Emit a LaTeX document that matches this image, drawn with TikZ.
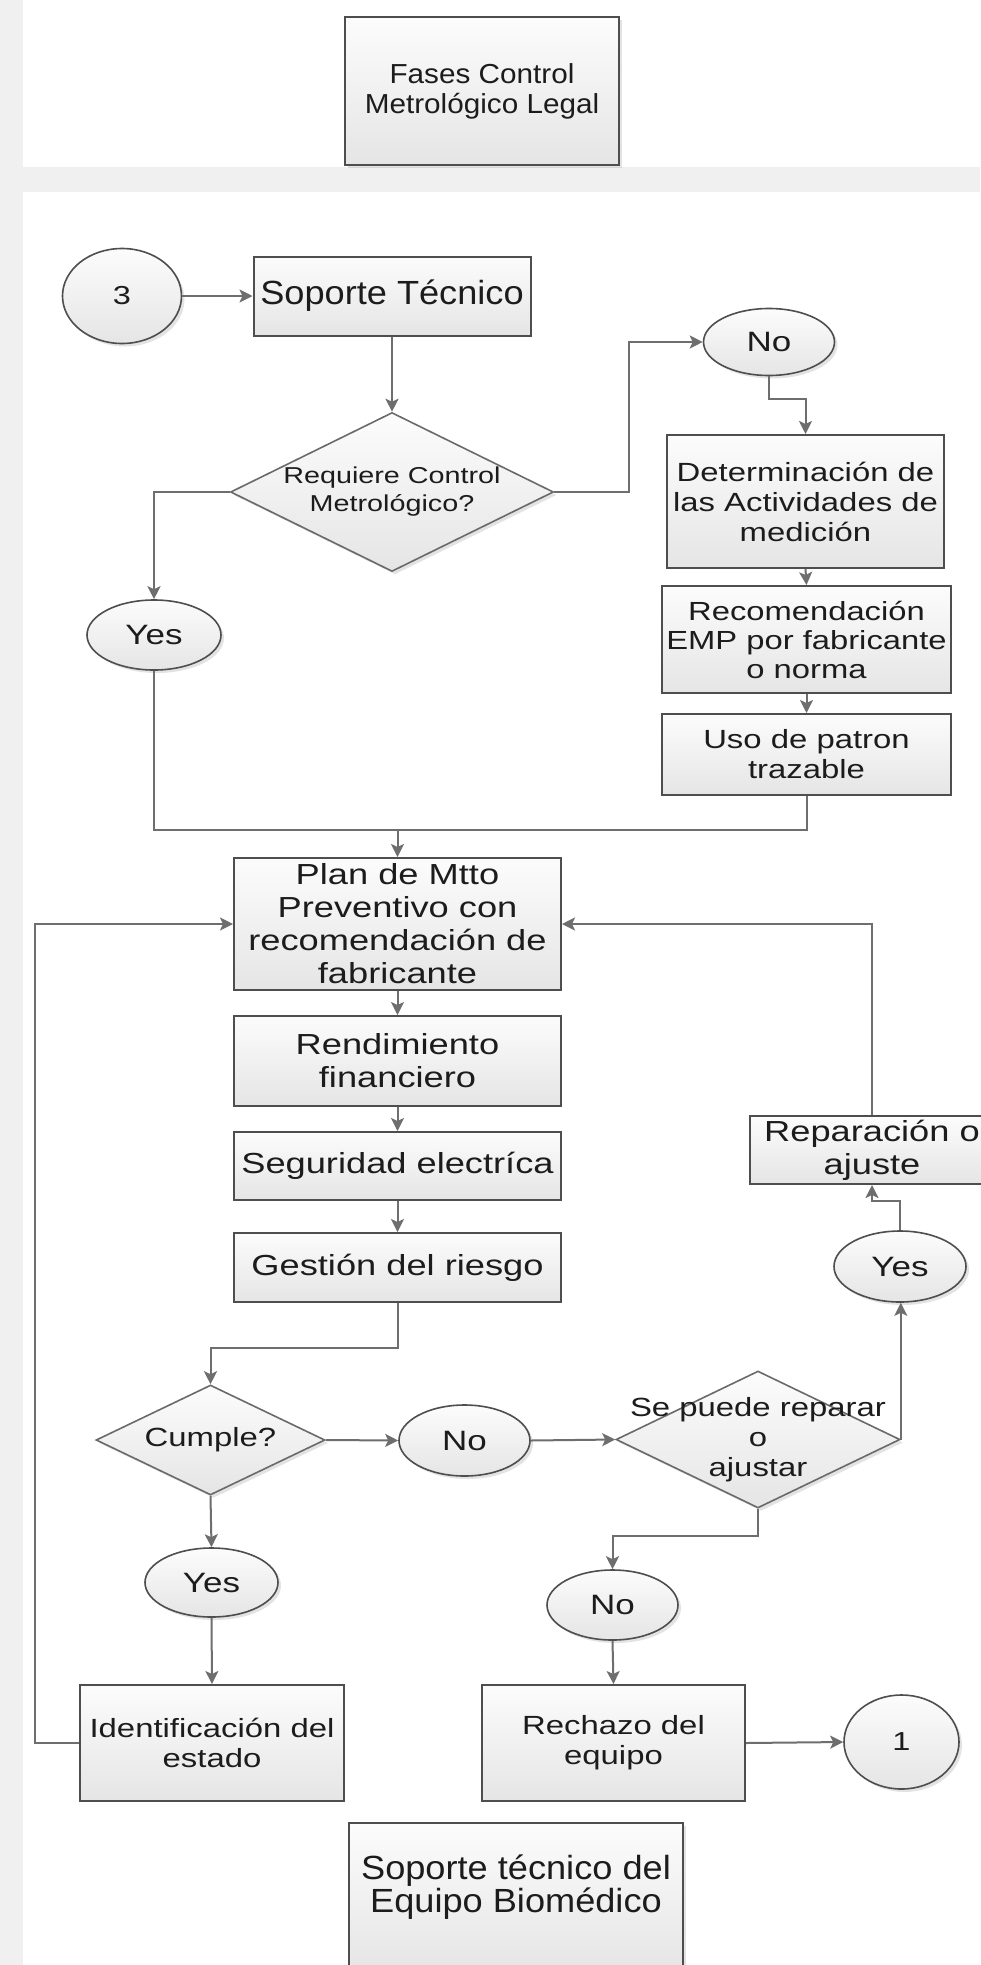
\documentclass[tikz,border=0pt]{standalone}
\usepackage{fontspec}
\setmainfont{Liberation Sans}
\newfontfamily\fW{Liberation Sans}[FakeStretch=1.25]
\newfontfamily\fN{Liberation Sans}[FakeStretch=1.08]
\usetikzlibrary{arrows.meta,shapes.geometric,shadows}

\definecolor{bgray}{HTML}{F0F0F0}
\definecolor{edge}{HTML}{4E4E4E}
\definecolor{dedge}{HTML}{6A6A6A}
\definecolor{wire}{HTML}{6E6E6E}
\definecolor{ink}{HTML}{1C1C1C}
\definecolor{topfill}{HTML}{FCFCFC}
\definecolor{botfill}{HTML}{E5E5E5}

\tikzset{
  softshadow/.style={drop shadow={shadow xshift=3pt,shadow yshift=-3pt,opacity=0.22,fill=gray}},
  box/.style={rectangle, draw=edge, line width=2pt, shading=axis, top color=topfill,
    bottom color=botfill, inner sep=0pt, align=center, text=ink},
  bigbox/.style={box, softshadow},
  oval/.style={ellipse, draw=edge, line width=1.6pt, shading=axis, top color=topfill,
    bottom color=botfill, inner sep=0pt, align=center, text=ink, softshadow,
    font=\fW\fontsize{28}{30}\selectfont},
  decision/.style={diamond, draw=dedge, line width=1.6pt, shading=axis, top color=topfill,
    bottom color=botfill, inner sep=0pt, softshadow},
  txtA/.style={font=\fW\fontsize{26.3}{30}\selectfont},
  txtB/.style={font=\fW\fontsize{29}{33}\selectfont},
  line/.style={draw=wire, line width=2pt},
  arr/.style={line, -{Stealth[length=13pt,width=13pt,inset=3pt]}},
}

\begin{document}
\begin{tikzpicture}[x=1pt,y=-1pt]
\useasboundingbox (0,0) rectangle (980,1965);
% page background and the two white panels
\fill[bgray] (0,0) rectangle (980,1965);
\fill[white] (23,0) rectangle (980,167);
\fill[white] (23,192) rectangle (980,1965);

% title blocks
\node[bigbox, minimum width=274pt, minimum height=148pt,
  font=\fN\fontsize{27.5}{30}\selectfont] (fases) at (482,91) {Fases Control\\Metrológico Legal};
\node[bigbox, minimum width=334pt, minimum height=148pt,
  label={[font=\fN\fontsize{33.5}{30}\selectfont, align=center, text=ink, yshift=10pt]center:Soporte técnico del\\Equipo Biomédico}] (titulo) at (516,1897) {};

% upper part
\node[oval, minimum width=119pt, minimum height=95pt, font=\fW\fontsize{26}{30}\selectfont] (c3) at (122,296) {3};
\node[box, minimum width=277pt, minimum height=79pt,
  font=\fN\fontsize{33.5}{36}\selectfont] (soporte) at (392,296) {Soporte Técnico};
\node[decision, minimum width=323pt, minimum height=159pt,
  label={[font=\fW\fontsize{23}{28}\selectfont, align=center, text=ink]center:Requiere Control\\Metrológico?}] (req) at (392,492) {};
\node[oval, minimum width=131pt, minimum height=67pt] (no1) at (769,342) {No};
\node[oval, minimum width=134pt, minimum height=70pt] (yes1) at (154,635) {Yes};
\node[box, txtA, minimum width=277pt, minimum height=133pt] (det) at (805.5,501.5) {Determinación de\\las Actividades de\\medición};
\node[box, minimum width=289pt, minimum height=107pt,
  font=\fW\fontsize{26.2}{29}\selectfont] (rec) at (806.5,639.5) {Recomendación\\EMP por fabricante\\o norma};
\node[box, txtA, minimum width=289pt, minimum height=81pt] (uso) at (806.5,754.5) {Uso de patron\\trazable};

% main column
\node[box, txtB, minimum width=327pt, minimum height=132pt] (plan) at (397.5,924) {Plan de Mtto\\Preventivo con\\recomendación de\\fabricante};
\node[box, txtB, minimum width=327pt, minimum height=90pt] (rend) at (397.5,1061) {Rendimiento\\financiero};
\node[box, txtB, minimum width=327pt, minimum height=68pt] (seg) at (397.5,1166) {Seguridad electríca};
\node[box, txtB, minimum width=327pt, minimum height=69pt] (ges) at (397.5,1267.5) {Gestión del riesgo};
\node[box, txtB, minimum width=244pt, minimum height=68pt] (rep) at (872,1150) {Reparación o\\ajuste};
\node[oval, minimum width=132pt, minimum height=71pt] (yes2) at (900,1266.5) {Yes};

% decisions in the lower part
\node[decision, minimum width=229pt, minimum height=110pt,
  label={[txtA, text=ink]center:Cumple?}] (cumple) at (210.5,1440) {};
\node[oval, minimum width=131pt, minimum height=71pt] (no2) at (464.5,1440.5) {No};
\node[decision, minimum width=284pt, minimum height=137pt,
  label={[txtA, align=center, text=ink]center:Se puede reparar\\o\\ajustar}] (se) at (758,1439.5) {};
\node[oval, minimum width=133pt, minimum height=69pt] (yes3) at (211.5,1582.5) {Yes};
\node[oval, minimum width=131pt, minimum height=70pt] (no3) at (612.5,1605) {No};
\node[box, txtA, minimum width=264pt, minimum height=116pt] (ident) at (212,1743) {Identificación del\\estado};
\node[box, txtA, minimum width=263pt, minimum height=116pt] (rech) at (613.5,1743) {Rechazo del\\equipo};
\node[oval, minimum width=115pt, minimum height=94pt, font=\fW\fontsize{26}{30}\selectfont] (c1) at (901.5,1742) {1};

% connectors
\draw[arr] (c3.east) -- (soporte.west);
\draw[arr] (soporte.south) -- (req.north);
\draw[arr] (req.east) -- ++(75,0) |- (no1.west);
\draw[arr] (req.west) -| (yes1.north);
\draw[arr] (no1.south) -- ++(0,23) -| (det.north);
\draw[arr] (det.south) -- (rec.north);
\draw[arr] (rec.south) -- (uso.north);
\coordinate (j) at (397.5,830);
\draw[line] (uso.south) |- (j);
\draw[line] (yes1.south) |- (j);
\draw[arr] (j) -- (plan.north);
\draw[arr] (plan.south) -- (rend.north);
\draw[arr] (rend.south) -- (seg.north);
\draw[arr] (seg.south) -- (ges.north);
\draw[arr] (ges.south) -- ++(0,45) -| (cumple.north);
\draw[arr] (cumple.east) -- (no2.west);
\draw[arr] (no2.east) -- (se.west);
\draw[arr] (se.east) -- (se.east |- yes2.south);
\draw[arr] (yes2.north) -- ++(0,-29) -| (rep.south);
\draw[arr] (rep.north) |- (plan.east);
\draw[arr] (se.south) -- ++(0,27) -| (no3.north);
\draw[arr] (no3.south) -- (rech.north);
\draw[arr] (rech.east) -- (c1.west);
\draw[arr] (cumple.south) -- (yes3.north);
\draw[arr] (yes3.south) -- (ident.north);
\draw[arr] (ident.west) -- ++(-44,0) |- (plan.west);
\end{tikzpicture}
\end{document}
